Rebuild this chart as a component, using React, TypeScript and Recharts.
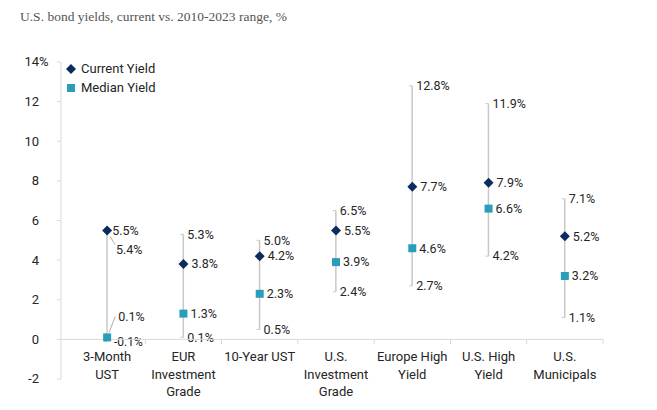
import React from 'react';
import { ComposedChart, Bar, Scatter, XAxis, YAxis, ReferenceLine } from 'recharts';

// values (%)
const categories = [
  '3-Month\nUST',
  'EUR\nInvestment\nGrade',
  '10-Year UST',
  'U.S.\nInvestment\nGrade',
  'Europe High\nYield',
  'U.S. High\nYield',
  'U.S.\nMunicipals',
];
const currentYield = [5.5, 3.8, 4.2, 5.5, 7.7, 7.9, 5.2];
const medianYield = [0.1, 1.3, 2.3, 3.9, 4.6, 6.6, 3.2];
const rangeHigh = [5.4, 5.3, 5.0, 6.5, 12.8, 11.9, 7.1];
const rangeLow = [-0.1, 0.1, 0.5, 2.4, 2.7, 4.2, 1.1];
const yTicks = [-2, 0, 2, 4, 6, 8, 10, 12, 14];

const data = categories.map((name, i) => ({
  name,
  current: currentYield[i],
  median: medianYield[i],
  range: [rangeLow[i], rangeHigh[i]],
}));

const W = 657;
const H = 410;
const margin = { top: 62, right: 54, bottom: 1, left: 0 };
const Y_AXIS_W = 61;
const X_AXIS_H = 30;
const X_PAD_LEFT = 8;
const plotTop = margin.top;
const plotBottom = H - margin.bottom - X_AXIS_H;
const plotWidth = W - margin.left - margin.right - Y_AXIS_W;
const band = (plotWidth - X_PAD_LEFT) / categories.length;
const zeroY = plotTop + ((14 - 0) / 16) * (plotBottom - plotTop);

const NAVY = '#0d2b5e';
const TEAL = '#2a9db8';
const LINE = '#c8c8c8';
const AXIS = '#d9d9d9';
const TEXT = '#252525';
const FONT = 'Roboto, "Noto Sans", sans-serif';

// categories that use leader lines for crowded labels
const LEADER = new Set([categories[0]]);

const pct = (v: number) => `${v.toFixed(1)}%`;

const RangeShape = (props: any) => {
  const { x, y, width, height, payload } = props;
  const cx = x + width / 2;
  const top = Math.min(y, y + height);
  const bottom = Math.max(y, y + height);
  const lead = LEADER.has(payload.name);
  return (
    <g>
      <line x1={cx} y1={top} x2={cx} y2={bottom} stroke={LINE} strokeWidth={1.5} />
      <line x1={cx - 3} y1={top} x2={cx} y2={top} stroke={LINE} strokeWidth={1} />
      <line x1={cx - 3} y1={bottom} x2={cx} y2={bottom} stroke={LINE} strokeWidth={1} />
      {lead ? (
        <g>
          <line x1={cx + 3} y1={top + 4} x2={cx + 8} y2={top + 12} stroke="#999" strokeWidth={0.8} />
          <text x={cx + 9} y={top + 18} fontSize={12.5} fill={TEXT} fontFamily={FONT} dominantBaseline="middle">
            {pct(payload.range[1])}
          </text>
          <text x={cx + 7} y={bottom + 1} fontSize={12} fill={TEXT} fontFamily={FONT} dominantBaseline="middle">
            {pct(payload.range[0])}
          </text>
        </g>
      ) : (
        <g>
          <text x={cx + 4} y={top + 1} fontSize={12.5} fill={TEXT} fontFamily={FONT} dominantBaseline="middle">
            {pct(payload.range[1])}
          </text>
          <text x={cx + 4} y={bottom + 1} fontSize={12.5} fill={TEXT} fontFamily={FONT} dominantBaseline="middle">
            {pct(payload.range[0])}
          </text>
        </g>
      )}
    </g>
  );
};

const DiamondShape = (props: any) => {
  const { cx, cy, payload } = props;
  const r = 5;
  const lead = LEADER.has(payload.name);
  return (
    <g>
      <polygon points={`${cx},${cy - r} ${cx + r},${cy} ${cx},${cy + r} ${cx - r},${cy}`} fill={NAVY} />
      <text x={cx + (lead ? 5 : 8)} y={cy + 1} fontSize={12.5} fill={TEXT} fontFamily={FONT} dominantBaseline="middle">
        {pct(payload.current)}
      </text>
    </g>
  );
};

const SquareShape = (props: any) => {
  const { cx, cy, payload } = props;
  const s = 8;
  const lead = LEADER.has(payload.name);
  return (
    <g>
      <rect x={cx - s / 2} y={cy - s / 2} width={s} height={s} fill={TEAL} />
      {lead ? (
        <g>
          <line x1={cx + 2} y1={cy - 5} x2={cx + 8} y2={cy - 21} stroke="#999" strokeWidth={0.8} />
          <text x={cx + 11} y={cy - 20} fontSize={12.5} fill={TEXT} fontFamily={FONT} dominantBaseline="middle">
            {pct(payload.median)}
          </text>
        </g>
      ) : (
        <text x={cx + 7} y={cy + 1} fontSize={12.5} fill={TEXT} fontFamily={FONT} dominantBaseline="middle">
          {pct(payload.median)}
        </text>
      )}
    </g>
  );
};

const CategoryTick = (props: any) => {
  const { x, payload } = props;
  const lines = String(payload.value).split('\n');
  return (
    <g>
      <line x1={x + band / 2} y1={zeroY} x2={x + band / 2} y2={zeroY + 5} stroke={AXIS} strokeWidth={1} />
      <text textAnchor="middle" fontSize={13} fill={TEXT} fontFamily={FONT}>
        {lines.map((l, i) => (
          <tspan key={i} x={x} y={zeroY + 18.5 + i * 17.5} dominantBaseline="middle">
            {l}
          </tspan>
        ))}
      </text>
    </g>
  );
};

const ValueTick = (props: any) => {
  const { y, payload } = props;
  const v = payload.value;
  return (
    <g>
      <text x={39} y={y + 1} textAnchor="end" fontSize={13} fill={TEXT} fontFamily={FONT} dominantBaseline="middle">
        {v}
      </text>
      {v === 14 && (
        <text x={39} y={y + 1} textAnchor="start" fontSize={13} fill={TEXT} fontFamily={FONT} dominantBaseline="middle">
          %
        </text>
      )}
    </g>
  );
};

const ChartLegend = () => (
  <div
    style={{
      position: 'absolute',
      left: 66,
      top: 59,
      fontFamily: FONT,
      fontSize: 13,
      color: TEXT,
      lineHeight: '19px',
    }}
  >
    <div style={{ display: 'flex', alignItems: 'center' }}>
      <svg width={15} height={12}>
        <polygon points="5,1 10,6 5,11 0,6" fill={NAVY} />
      </svg>
      <span>Current Yield</span>
    </div>
    <div style={{ display: 'flex', alignItems: 'center' }}>
      <svg width={15} height={12}>
        <rect x={1} y={2} width={8} height={8} fill={TEAL} />
      </svg>
      <span>Median Yield</span>
    </div>
  </div>
);

export default function App() {
  return (
    <div style={{ position: 'relative', width: W, height: H, margin: -8, background: '#fff' }}>
      <div
        style={{
          position: 'absolute',
          left: 20,
          top: 9,
          fontFamily: '"Liberation Serif", "DejaVu Serif", serif',
          fontSize: 13.5,
          color: '#555',
          whiteSpace: 'nowrap',
        }}
      >
        U.S. bond yields, current vs. 2010-2023 range, %
      </div>
      <div style={{ position: 'absolute', left: 0, top: 0 }}>
        <ComposedChart width={W} height={H} data={data} margin={margin}>
          <XAxis
            dataKey="name"
            height={X_AXIS_H}
            axisLine={false}
            tickLine={false}
            interval={0}
            padding={{ left: X_PAD_LEFT, right: 0 }}
            tick={<CategoryTick />}
          />
          <YAxis
            width={Y_AXIS_W}
            domain={[-2, 14]}
            ticks={yTicks}
            interval={0}
            axisLine={{ stroke: AXIS }}
            tickLine={{ stroke: AXIS }}
            tickSize={4}
            tick={<ValueTick />}
          />
          <ReferenceLine y={0} stroke={AXIS} strokeWidth={1} />
          <Bar dataKey="range" barSize={8} shape={<RangeShape />} isAnimationActive={false} />
          <Scatter dataKey="median" shape={<SquareShape />} isAnimationActive={false} />
          <Scatter dataKey="current" shape={<DiamondShape />} isAnimationActive={false} />
        </ComposedChart>
      </div>
      <ChartLegend />
    </div>
  );
}
